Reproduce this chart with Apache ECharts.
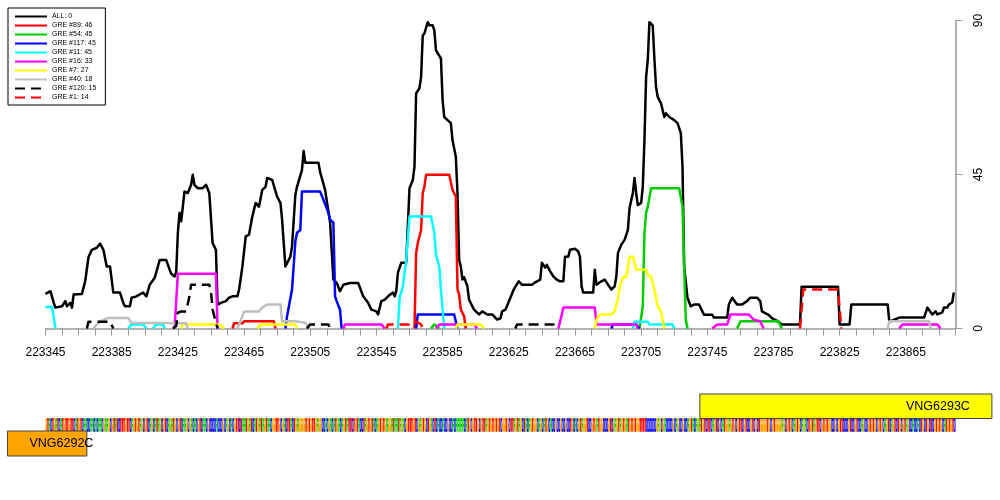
<!DOCTYPE html>
<html><head><meta charset="utf-8">
<script src="https://cdn.jsdelivr.net/npm/echarts@6/dist/echarts.min.js"></script>
<style>html,body{margin:0;padding:0;background:#fff}#c{width:1000px;height:500px}</style>
</head><body><div id="c"></div>
<script>
// ---------- DATA ----------
const xMin = 223345, xMax = 223895;
const xTickLabels = [223345,223385,223425,223465,223505,223545,223585,223625,223665,223705,223745,223785,223825,223865];
const yTicks = [0,45,90];

const allLine = [[223345,10.1],[223348,10.9],[223350,7.5],[223351,6.1],[223355,6.5],[223357,8],[223358,6.5],[223360,7.5],[223361,6.1],[223362,9.9],[223367,10.1],[223369,13.8],[223371,20.9],[223373,23],[223376,23.6],[223378,24.8],[223380,23],[223382,18.1],[223384,18.1],[223386,10.5],[223390,10.5],[223392,7.5],[223393,6.5],[223396,6.5],[223397,9],[223400,9.4],[223402,10],[223404,10.5],[223406,9.4],[223408,12.8],[223411,14.8],[223414,20],[223418,20],[223420,17.2],[223421,16],[223423,15.2],[223424,16.5],[223425,28],[223426,33.8],[223427,31.3],[223428,35.6],[223429,40],[223431,39.6],[223433,42],[223434,44.9],[223435,42],[223437,41],[223440,41],[223442,42],[223444,39.6],[223446,25],[223448,23],[223449,7],[223451,7.5],[223454,8],[223456,9],[223458,9.4],[223461,9.4],[223462,11.4],[223464,18.1],[223466,26.9],[223468,27.4],[223470,32.7],[223472,36.7],[223474,35.6],[223476,40.5],[223478,41.4],[223479,44],[223482,43.4],[223485,38.5],[223487,36.7],[223488,31.8],[223490,18.1],[223493,21],[223494,24],[223496,39],[223497,41.4],[223500,46.3],[223501,51.9],[223502,48.4],[223510,48.4],[223511,45.7],[223514,40.5],[223517,31],[223519,14.3],[223521,13.4],[223523,10.9],[223525,12.8],[223529,13.3],[223534,13.3],[223535,13.8],[223537,9.4],[223540,7.5],[223542,5.5],[223545,5],[223546,4.1],[223548,8],[223550,8.4],[223552,9.4],[223555,10.5],[223556,9.4],[223557,10.9],[223558,16.3],[223560,19.2],[223563,19.2],[223565,41],[223567,43.4],[223568,47.3],[223569,68.7],[223571,70.2],[223572,73.5],[223573,85.6],[223574,86.2],[223576,89.5],[223577,88.6],[223579,88.6],[223580,87.1],[223581,81.3],[223582,81],[223584,78.9],[223585,66.7],[223586,61.8],[223588,60.9],[223590,60],[223591,55],[223593,50.2],[223594,39.6],[223595,20.1],[223596,18.1],[223597,14.3],[223598,15],[223600,12.3],[223601,8.4],[223604,5.5],[223607,4.1],[223609,5],[223612,4.1],[223615,4.1],[223618,2.6],[223620,3],[223621,5],[223623,5.5],[223628,11.4],[223631,13.8],[223633,12.8],[223639,12.8],[223641,13.5],[223644,14.3],[223645,19.2],[223647,17.8],[223648,18.6],[223650,16.7],[223652,15.2],[223654,14.3],[223656,13.8],[223658,13.8],[223659,21],[223661,21],[223662,23],[223665,23.3],[223667,22.5],[223668,21],[223669,12.3],[223670,10.5],[223676,10.5],[223677,17.2],[223678,12.8],[223679,12.3],[223681,13.8],[223683,14.3],[223685,12.8],[223687,11.4],[223689,12.3],[223690,15.2],[223691,22.1],[223693,24.5],[223695,25.9],[223697,28.8],[223698,35.2],[223700,39.6],[223701,44],[223702,39.6],[223703,36.1],[223705,36.7],[223706,41.4],[223707,55],[223708,73.5],[223709,78.4],[223710,89.5],[223712,88.6],[223713,78.9],[223714,70.6],[223715,67.7],[223717,65.8],[223719,61.8],[223720,62.9],[223722,61.8],[223725,60.9],[223727,60],[223729,57.1],[223730,47.3],[223731,18.1],[223733,9],[223735,6.5],[223737,7],[223740,7],[223742,5],[223743,4],[223748,4],[223749,3.2],[223757,3.2],[223758,7],[223760,9],[223763,7],[223766,7],[223769,8],[223771,9],[223775,9],[223777,8],[223778,5],[223782,4],[223784,3],[223788,2],[223790,1.2],[223801,1.2],[223802,12.2],[223824,12.2],[223825,1.2],[223831,1.2],[223832,7],[223854,7],[223855,2],[223861,3.2],[223876,3.2],[223878,6.1],[223881,4.1],[223883,5],[223884,4.1],[223887,4.7],[223888,6.1],[223890,6.1],[223891,7],[223893,7.6],[223894,10.5]];

const gre89 = [[223458,0],[223459,1.5],[223464,1.5],[223465,2.1],[223483,2.1],[223484,0],null,
  [223568,0],[223569,22],[223570,25],[223572,28.8],[223573,39.6],[223574,41.4],[223575,44.9],[223589,44.9],[223591,40.5],[223593,38.5],[223594,11.4],[223595,9.9],[223596,5.5],[223598,3.6],[223599,0]];
const gre54 = [[223578,0],[223580,1.2],[223581,1.2],[223583,0],null,
  [223704,0],[223706,6.5],[223707,28],[223708,33.8],[223709,35.6],[223711,41],[223728,41],[223730,35.6],[223731,18.1],[223732,2.6],[223733,0],null,
  [223763,0],[223765,2.1],[223788,2.1],[223790,0]];
const gre117 = [[223490,0],[223491,3.6],[223494,11.4],[223496,25.4],[223497,28],[223499,28.8],[223500,40],[223511,40],[223513,37.6],[223516,33.8],[223517,31.8],[223519,30.9],[223520,9.4],[223521,8],[223523,5.5],[223524,0],null,
  [223569,0],[223570,4.1],[223592,4.1],[223594,0],null,
  [223687,0],[223688,1.2],[223702,1.2],[223704,0]];
const gre11 = [[223345,6.3],[223349,6.3],[223351,0],null,
  [223395,0],[223397,1.2],[223404,1.2],[223406,0],null,
  [223410,0],[223412,1.2],[223416,1.2],[223417,0],null,
  [223558,0],[223559,9],[223561,12.2],[223563,20],[223565,32.7],[223578,32.7],[223580,28],[223581,21.6],[223583,18.1],[223584,11.4],[223586,0],null,
  [223700,0],[223701,2],[223709,2],[223710,1.2],[223724,1.2],[223725,0]];
const gre16 = [[223423,0],[223425,16],[223448,16],[223449,0],null,
  [223525,0],[223526,1.2],[223548,1.2],[223550,0],null,
  [223581,0],[223583,1.2],[223604,1.2],[223606,0],null,
  [223655,0],[223658,6.1],[223677,6.1],[223678,1.2],[223702,1.2],[223703,0],null,
  [223748,0],[223751,1.2],[223757,1.2],[223759,4.1],[223770,4.1],[223773,2.6],[223777,2.1],[223779,0],null,
  [223861,0],[223863,1.2],[223884,1.2],[223886,0]];
const gre7 = [[223427,0],[223428,1.2],[223450,1.2],[223453,0],null,
  [223473,0],[223475,1.2],[223496,1.2],[223497,0],null,
  [223593,0],[223594,1.2],[223608,1.2],[223610,0],null,
  [223677,0],[223678,2.6],[223680,4.1],[223687,4.1],[223689,5],[223691,9],[223692,12.3],[223694,14.9],[223696,15.2],[223698,21],[223700,21],[223702,17.2],[223708,17.2],[223709,15.7],[223711,15.2],[223713,11.4],[223715,6.5],[223717,5],[223719,0]];
const gre40 = [[223374,0],[223376,1.2],[223378,2.1],[223383,3.1],[223395,3.1],[223397,1.7],[223430,1.5],[223431,0],null,
  [223461,0],[223464,3.6],[223465,5],[223474,5],[223476,6.1],[223479,7],[223487,7],[223488,2.1],[223496,2.1],[223502,1.7],[223504,0],null,
  [223854,0],[223855,2.1],[223879,2.1],[223880,0]];
const gre120 = [[223370,0],[223371,2],[223384,2],[223386,0],null,
  [223422,0],[223424,0.7],[223425,4.6],[223427,5],[223430,5],[223432,9.4],[223433,12.8],[223444,12.8],[223445,10.9],[223446,5.5],[223448,1.7],[223449,0],null,
  [223503,0],[223505,1.2],[223516,1.2],[223517,0],null,
  [223629,0],[223630,1.2],[223652,1.2],[223653,0]];
const gre1 = [[223551,0],[223552,1.2],[223567,1.2],[223569,2],[223572,1.2],[223573,0],null,
  [223801,0],[223803,11.4],[223824,11.4],[223826,0]];

const seriesNames = ['ALL: 0','GRE #89: 46','GRE #54: 45','GRE #117: 45','GRE #11: 45','GRE #16: 33','GRE #7: 27','GRE #40: 18','GRE #120: 15','GRE #1: 14'];
const seriesData = [allLine, gre89, gre54, gre117, gre11, gre16, gre7, gre40, gre120, gre1];
const seriesColors = ['#000000','#ff0000','#00cc00','#0000ff','#00ffff','#ff00ff','#ffff00','#bebebe','#000000','#ff0000'];
const seriesDashed = [false,false,false,false,false,false,false,false,true,true];

const seqChunks = [
 'GTACTGATCA','TGTTGTTCAT','GTCAACCAAC','ACAACGAAGC','GTATCTTTGT','TCAGTGTAGC','GTCAGCATAG','CGTCAGATGC','GTCAAGCGAC','ACGTCAACGC','CCCACCCGCA','GCACGTTCTA','ATGATCATGA','TAGTAACG',
 'GTTGCGACTT','ACTGAGGGGT','GTGTTGAGGC','CACGACATGA','CAGTATTCTG','TACCTAGTGT','ACAGTGTGAG','GATAATAGAC','GTTTGTCGAG','TGCTGACTCA','CCACCGCCAC','AAAAACATGC','GTTGCGTTAG','TGTGTGTC',
 'GGTGCTTAGT','AGCTACAGTG','GCAGCATGCA','CCGCCGCCGC','CTGCACGTAG','GTCCGTGATG','GCCCGTCGAG','TAGTGATGTG','TGGTTTTCCC','CCCGAGCGAC','CCCGCAGCCG','CCAGTACAGA','TGTCTTCAGT','CGCATGGA',
 'GTGCGTTCGT','CCGTCGCTGG','GGTGCGTGGG','GAGCGTGCAG','TGCAGACTGT','AGTTCGTGTG','GCCGCGTTCC','CGTCCGTCCA','GCCGTGTGCG','TGCAGTCAGT','CTGCGTAGCC','ACCACTGCTG','CTCGTGTGCA','TGTGTC'
];
const baseLetters = ['A','C','G','T'];
const baseColors = ['#00cc00','#0000ff','#ffa500','#ff0000'];

const geneNames = ['VNG6293C','VNG6292C'];
const geneStart = [223740.5, 223322];
const geneEnd = [223917, 223370];
const geneStrand = [1, -1];
const geneColors = ['#ffff00','#ffa500'];

// ---------- BUILD ----------
const seq = seqChunks.join('');
const seqData = seq.split('').map((b,i)=>[xMin + i + 0.5, baseLetters.indexOf(b)]);
const geneData = geneNames.map((n,i)=>[geneStart[i], geneEnd[i], geneStrand[i]]);

// white "counter" gaps that mimic squeezed glyph shapes (fractions of letter height)
const glyphGaps = [
  [[0.2,0.42],[0.62,1.0]],   // A
  [[0.18,0.82]],             // C
  [[0.18,0.45]],             // G
  [[0.16,1.0]]               // T (side gaps handled as narrower stem)
];

function toLine(arr){
  const out = [];
  for (let i=0;i<arr.length;i++){
    if (arr[i] === null) out.push([arr[i-1][0], '-']);
    else out.push(arr[i]);
  }
  return out;
}

const lineSeries = seriesNames.map((n,i)=>({
  name: n, type: 'line', xAxisIndex: 0, yAxisIndex: 0,
  data: toLine(seriesData[i]), showSymbol: false, symbol: 'none',
  connectNulls: false, clip: true, silent: true, z: 2 + i,
  lineStyle: {color: seriesColors[i], width: 2.5, type: seriesDashed[i] ? [10,6] : 'solid', cap: 'butt', join: 'round'},
  itemStyle: {color: seriesColors[i]}
}));

const FONT = 'Liberation Sans, Arial, Helvetica, sans-serif';

const option = {
  animation: false,
  backgroundColor: '#ffffff',
  legend: {
    data: seriesNames, orient: 'vertical', left: 8, top: 8,
    padding: [5, 9, 4, 6], itemWidth: 32, itemHeight: 7, itemGap: 2,
    borderColor: '#000', borderWidth: 1, selectedMode: false,
    itemStyle: {opacity: 0},
    textStyle: {fontSize: 7, color: '#000', fontFamily: FONT}
  },
  grid: [
    {left: 45.5, right: 44.5, top: 20.5, bottom: 171.5},
    {left: 45.5, right: 44.5, top: 394, height: 62}
  ],
  xAxis: [
    {type: 'value', gridIndex: 0, min: xMin, max: xMax, interval: 10, position: 'bottom', offset: 8,
     axisLine: {show: true, lineStyle: {color: '#999', width: 1.5}},
     axisTick: {show: true, length: 7, lineStyle: {color: '#999', width: 1}},
     axisLabel: {show: true, margin: 10, fontSize: 12, color: '#000', fontFamily: FONT,
       showMinLabel: true, showMaxLabel: true,
       formatter: v => xTickLabels.indexOf(Math.round(v)) >= 0 ? String(Math.round(v)) : ''},
     splitLine: {show: false}},
    {type: 'value', gridIndex: 1, min: xMin, max: xMax, show: false}
  ],
  yAxis: [
    {type: 'value', gridIndex: 0, position: 'right', min: yTicks[0], max: yTicks[yTicks.length-1], interval: 45,
     axisLine: {show: true, lineStyle: {color: '#999', width: 1.5}},
     axisTick: {show: true, length: 7, lineStyle: {color: '#999', width: 1}},
     axisLabel: {show: true, rotate: 90, margin: 17, fontSize: 12, color: '#000', fontFamily: FONT},
     splitLine: {show: false}},
    {type: 'value', gridIndex: 1, min: 0, max: 1, show: false}
  ],
  series: lineSeries.concat([
    {
      type: 'custom', name: 'sequence', xAxisIndex: 1, yAxisIndex: 1, clip: false, silent: true,
      data: seqData,
      renderItem: function(params, api){
        const x = api.value(0), code = api.value(1);
        const p = api.coord([x, 0]);
        const w = api.size([1, 0])[0];
        const top = params.coordSys.y + 24.3, H = 13.4;
        const kids = [];
        if (code === 3) {
          kids.push({type: 'rect', shape: {x: p[0]-w/2, y: top, width: w, height: H*0.16}, style: {fill: baseColors[code]}});
          kids.push({type: 'rect', shape: {x: p[0]-w*0.3, y: top, width: w*0.6, height: H}, style: {fill: baseColors[code]}});
          kids.push({type: 'rect', shape: {x: p[0]-w/2, y: top+H*0.16, width: w, height: H*0.84}, style: {fill: baseColors[code], opacity: 0.35}});
        } else {
          kids.push({type: 'rect', shape: {x: p[0]-w/2, y: top, width: w, height: H}, style: {fill: baseColors[code]}});
          glyphGaps[code].forEach(g => kids.push({type: 'rect',
            shape: {x: p[0]-w*0.2, y: top + g[0]*H, width: w*0.4, height: (g[1]-g[0])*H},
            style: {fill: '#ffffff', opacity: 0.75}}));
        }
        return {type: 'group', children: kids};
      }
    },
    {
      type: 'custom', name: 'genes', xAxisIndex: 1, yAxisIndex: 1, clip: false, silent: true,
      data: geneData,
      renderItem: function(params, api){
        const i = params.dataIndex;
        const s = api.value(0), e = api.value(1), strand = api.value(2);
        const p1 = api.coord([s, 0]), p2 = api.coord([e, 0]);
        const top = params.coordSys.y;
        const y = strand > 0 ? top : top + 37;
        const h = strand > 0 ? 24.5 : 25;
        const tx = strand > 0 ? p2[0] - 22 : p1[0] + 22;
        return {type: 'group', children: [
          {type: 'rect', shape: {x: p1[0], y: y, width: p2[0]-p1[0], height: h},
           style: {fill: geneColors[i], stroke: '#444', lineWidth: 1}},
          {type: 'text', x: tx, y: y + h/2, z2: 10,
           style: {text: geneNames[i], fill: '#000', fontSize: 12.5, fontFamily: FONT,
                   align: strand > 0 ? 'right' : 'left', verticalAlign: 'middle'}}
        ]};
      }
    }
  ])
};

const chart = echarts.init(document.getElementById('c'), null, {renderer: 'canvas'});
chart.setOption(option);
</script>
</body></html>
